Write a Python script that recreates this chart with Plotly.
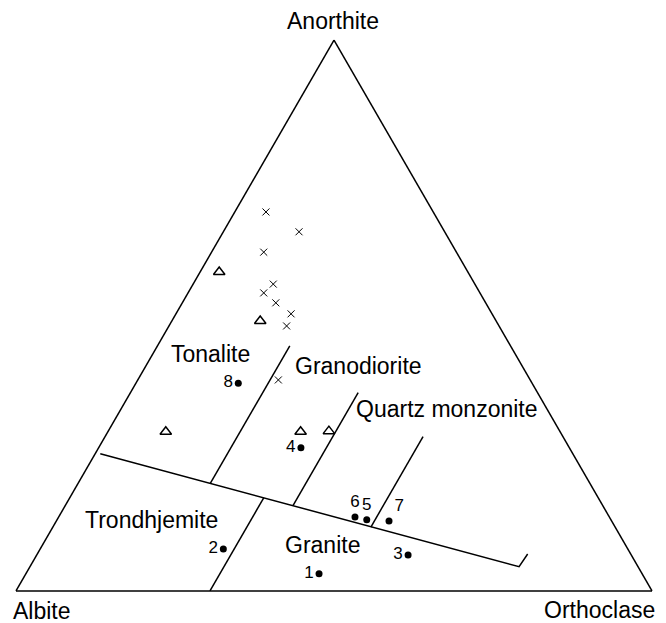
import plotly.graph_objects as go

# ---- data: An / Ab / Or (mol %) ----
# numbered samples (filled circles)
dot_ids = ["1", "2", "3", "4", "5", "6", "7", "8"]
dot_an = [3.1, 7.6, 6.5, 26.0, 12.9, 13.4, 12.7, 37.7]
dot_ab = [50.8, 63.6, 35.1, 42.2, 38.4, 40.0, 35.0, 46.2]
dot_or = [46.1, 28.8, 58.4, 31.8, 48.7, 46.6, 52.3, 16.1]

# open triangles
tri_an = [57.9, 49.0, 28.9, 28.9, 29.0]
tri_ab = [39.1, 37.1, 62.0, 40.8, 36.3]
tri_or = [3.0, 13.9, 9.1, 30.3, 34.7]

# crosses
cross_an = [68.8, 65.2, 61.5, 55.7, 54.1, 52.3, 50.3, 48.1, 38.3]
cross_ab = [26.3, 22.9, 30.3, 31.7, 34.0, 33.0, 31.6, 33.4, 39.6]
cross_or = [4.9, 11.9, 8.2, 12.6, 11.9, 14.7, 18.1, 18.5, 22.1]

# field boundaries
main_an = [24.9, 4.4, 6.7]
main_ab = [74.3, 18.7, 16.2]
main_or = [0.8, 76.9, 77.1]

div_an = [[44.5, 19.5], [36.0, 15.5], [28.0, 11.6], [16.9, 0.0]]
div_ab = [[34.7, 59.7], [28.2, 48.7], [22.0, 38.4], [52.6, 69.5]]
div_or = [[20.8, 20.8], [35.8, 35.8], [50.0, 50.0], [30.5, 30.5]]

field_names = ["Tonalite", "Granodiorite", "Quartz monzonite", "Trondhjemite", "Granite"]
apex_names = ["Anorthite", "Albite", "Orthoclase"]

W, H = 666, 623
OFF = 8  # page body margin in the browser
FONT = "Liberation Sans, Arial, Helvetica, sans-serif"

fig = go.Figure()

# boundaries
fig.add_trace(go.Scatterternary(a=main_an, b=main_ab, c=main_or, mode="lines",
                                line=dict(color="black", width=1.5), showlegend=False))
for a, b, c in zip(div_an, div_ab, div_or):
    fig.add_trace(go.Scatterternary(a=a, b=b, c=c, mode="lines",
                                    line=dict(color="black", width=1.5), showlegend=False))

# crosses
fig.add_trace(go.Scatterternary(a=cross_an, b=cross_ab, c=cross_or, mode="markers",
                                marker=dict(symbol="x-thin", size=7, color="black",
                                            line=dict(color="black", width=1)),
                                showlegend=False))
# triangles
fig.add_trace(go.Scatterternary(a=tri_an, b=tri_ab, c=tri_or, mode="markers",
                                marker=dict(symbol="triangle-up-open", size=10, color="black",
                                            line=dict(color="black", width=1.5)),
                                showlegend=False))
# numbered dots
dot_pos = ["middle left", "middle left", "middle left", "middle left",
           "top center", "top center", "top right", "middle left"]
fig.add_trace(go.Scatterternary(a=dot_an, b=dot_ab, c=dot_or, mode="markers+text",
                                text=dot_ids, textposition=dot_pos,
                                textfont=dict(family=FONT, size=17, color="black"),
                                marker=dict(symbol="circle", size=7, color="black"),
                                showlegend=False))

axis = dict(title=dict(text=""), showgrid=False, showticklabels=False, ticks="",
            showline=True, linecolor="black", linewidth=1.5, min=0)

# label positions in pixels (x, y) -> paper coords
field_xy = [(210, 354), (358, 366), (447, 409), (151, 520), (322, 545)]
apex_xy = [(333, 21), (42, 611), (599, 610)]

annotations = []
for name, (px, py) in zip(field_names + apex_names, field_xy + apex_xy):
    annotations.append(dict(text=name, x=(px - OFF) / W, y=1 - (py - OFF) / H,
                            xref="paper", yref="paper",
                            xanchor="center", yanchor="middle", showarrow=False,
                            font=dict(family=FONT, size=23, color="black")))

fig.update_layout(
    width=W, height=H,
    margin=dict(l=0, r=0, t=0, b=0),
    paper_bgcolor="white",
    plot_bgcolor="white",
    font=dict(family=FONT, color="black"),
    ternary=dict(
        sum=100,
        domain=dict(x=[(16 - OFF) / W, (652 - OFF) / W],
                    y=[1 - (591 - OFF) / H, 1 - (40 - OFF) / H]),
        bgcolor="white",
        aaxis=axis, baxis=axis, caxis=axis,
    ),
    annotations=annotations,
    showlegend=False,
)

fig.write_html("out.html")
